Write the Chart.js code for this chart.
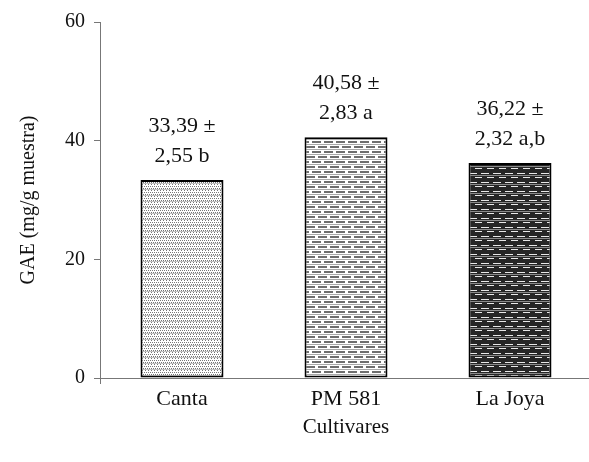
<!DOCTYPE html>
<html>
<head>
<meta charset="utf-8">
<script src="https://cdn.jsdelivr.net/npm/chart.js@4"></script>
<style>
  html, body { margin: 0; padding: 0; background: #fff; overflow: hidden; }
  #wrap { width: 592px; height: 462px; }
</style>
</head>
<body>
<div id="wrap"><canvas id="grafico" width="592" height="462"></canvas></div>
<script>
// Datos del gráfico
const cultivares = ["Canta", "PM 581", "La Joya"];
const gae = [33.39, 40.58, 36.22];
const desviacion = ["2,55", "2,83", "2,32"];
const letras = ["b", "a", "a,b"];
const ticksY = [0, 20, 40, 60];

const fuente = "'Liberation Serif', 'Times New Roman', serif";

// Tramas de relleno para cada barra
function trama(w, h, dibujar) {
  const c = document.createElement("canvas");
  c.width = w;
  c.height = h;
  const g = c.getContext("2d");
  dibujar(g);
  return g.createPattern(c, "repeat");
}

const tramaPuntos = trama(6, 6, function (g) {
  g.fillStyle = "#fff";
  g.fillRect(0, 0, 6, 6);
  g.fillStyle = "#777";
  g.fillRect(0, 0, 1, 1);
  g.fillRect(2, 0, 1, 1);
  g.fillRect(4, 0, 1, 1);
  g.fillRect(1, 2, 1, 1);
  g.fillRect(3, 2, 1, 1);
  g.fillRect(5, 2, 1, 1);
  g.fillRect(1, 4, 1, 1);
  g.fillRect(4, 4, 1, 1);
  g.fillStyle = "#c0c0c0";
  g.fillRect(0, 3, 6, 1);
});

const tramaGuiones = trama(12, 10, function (g) {
  g.fillStyle = "#fff";
  g.fillRect(0, 0, 12, 10);
  g.fillStyle = "#6e6e6e";
  g.fillRect(0, 1, 9, 2);
  g.fillRect(6, 6, 6, 2);
  g.fillRect(0, 6, 3, 2);
  g.fillStyle = "#a8a8a8";
  g.fillRect(0, 4, 12, 1);
  g.fillRect(0, 9, 12, 1);
});

const tramaLadrillo = trama(12, 9, function (g) {
  g.fillStyle = "#262626";
  g.fillRect(0, 0, 12, 9);
  g.fillStyle = "#e8e8e8";
  g.fillRect(1, 2, 8, 1);
  g.fillRect(7, 6, 5, 1);
  g.fillRect(0, 6, 2, 1);
  g.fillStyle = "#8a8a8a";
  g.fillRect(0, 4, 12, 1);
});

// Etiquetas de valor sobre las barras
const etiquetas = {
  id: "etiquetas",
  afterDatasetsDraw(chart) {
    const ctx = chart.ctx;
    const meta = chart.getDatasetMeta(0);
    ctx.save();
    ctx.font = "22px " + fuente;
    ctx.fillStyle = "#111";
    ctx.textAlign = "center";
    ctx.textBaseline = "middle";
    meta.data.forEach(function (bar, i) {
      const linea1 = gae[i].toFixed(2).replace(".", ",") + " \u00b1";
      const linea2 = desviacion[i] + " " + letras[i];
      ctx.fillText(linea1, bar.x, bar.y - 54);
      ctx.fillText(linea2, bar.x, bar.y - 24);
    });
    // prolongación del eje Y por debajo del eje X
    const a = chart.chartArea;
    ctx.strokeStyle = "#777";
    ctx.lineWidth = 1;
    ctx.beginPath();
    ctx.moveTo(a.left + 0.5, a.bottom);
    ctx.lineTo(a.left + 0.5, a.bottom + 6);
    ctx.stroke();
    ctx.restore();
  }
};

new Chart(document.getElementById("grafico").getContext("2d"), {
  type: "bar",
  data: {
    labels: cultivares,
    datasets: [
      {
        data: gae,
        backgroundColor: [tramaPuntos, tramaGuiones, tramaLadrillo],
        borderColor: "#000",
        borderWidth: 2,
        borderSkipped: false,
        barPercentage: 0.506,
        categoryPercentage: 1
      }
    ]
  },
  options: {
    responsive: false,
    animation: false,
    layout: { padding: { top: 22, right: 0, bottom: 0, left: 0 } },
    plugins: {
      legend: { display: false },
      tooltip: { enabled: false }
    },
    scales: {
      x: {
        grid: { display: false },
        border: { color: "#777", width: 1 },
        ticks: { color: "#111", font: { family: fuente, size: 22 }, padding: 0 },
        title: {
          display: true,
          text: "Cultivares",
          color: "#111",
          font: { family: fuente, size: 21 },
          padding: { top: 0, bottom: 22 }
        },
        afterFit(scale) { scale.height = 84; }
      },
      y: {
        min: 0,
        max: 60,
        afterBuildTicks(scale) { scale.ticks = ticksY.map(v => ({ value: v })); },
        grid: { drawOnChartArea: false, drawTicks: true, tickLength: 6, color: "#777" },
        border: { color: "#777", width: 1 },
        ticks: { color: "#111", font: { family: fuente, size: 20 }, padding: 9 },
        title: {
          display: true,
          text: "GAE (mg/g muestra)",
          color: "#111",
          font: { family: fuente, size: 20 },
          padding: { top: 17, bottom: 0 }
        },
        afterFit(scale) { scale.width = 100; }
      }
    }
  },
  plugins: [etiquetas]
});
</script>
</body>
</html>
